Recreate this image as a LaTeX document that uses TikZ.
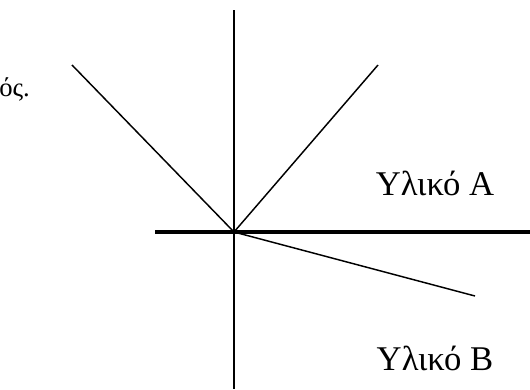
\documentclass[tikz,border=0pt]{standalone}
\usepackage{fontspec}
\setmainfont{Liberation Serif}
\begin{document}
\begin{tikzpicture}[x=0.75pt, y=-0.75pt,
  ray/.style={line width=1.1pt},
  axis/.style={line width=1pt},
  surface/.style={line width=2.4pt},
  medium/.style={font=\fontsize{26}{30}\selectfont, inner sep=0pt},
  cut/.style={font=\fontsize{20}{24}\selectfont, inner sep=0pt, anchor=base west},
]
\useasboundingbox (0,0) rectangle (530,389);

% === NORMAL AND BOUNDARY ===
\coordinate (o) at (234,232);
\coordinate (ntop) at (234,10);
\coordinate (nbot) at (234,389);
\coordinate (sleft) at (155,232);
\coordinate (sright) at (530,232);
\draw[axis] (ntop) -- (nbot);
\draw[surface] (sleft) -- (sright);

% === RAYS ===
\coordinate (inc) at (72,65);
\coordinate (refl) at (378,65);
\coordinate (refr) at (475,296);
\draw[ray] (inc) -- (o);
\draw[ray] (o) -- (refl);
\draw[ray] (o) -- (refr);

% === LABELS ===
\node[medium] (matA) at (435,183) {Υλικό Α};
\node[medium] (matB) at (435,358) {Υλικό Β};
\node[cut] (note) at (-1,96) {ός.};
\end{tikzpicture}
\end{document}
